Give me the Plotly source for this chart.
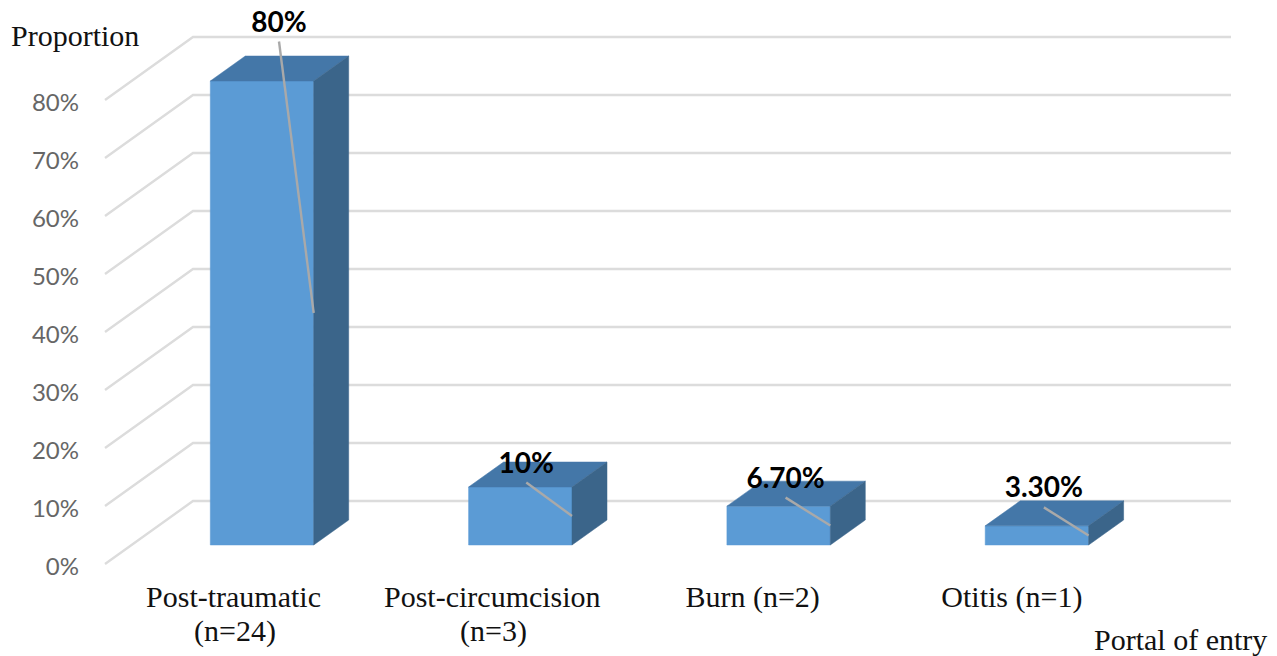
import plotly.graph_objects as go

# ---- data ----
category_names = ["Post-traumatic", "Post-circumcision", "Burn (n=2)", "Otitis (n=1)"]
category_second_lines = ["(n=24)", "(n=3)", "", ""]
proportions = [80, 10, 6.7, 3.3]
value_labels = ["80%", "10%", "6.70%", "3.30%"]
axis_ticks = [0, 10, 20, 30, 40, 50, 60, 70, 80]

# ---- page geometry (pixels) ----
W, H = 1277, 656
L, R, T, B = 80, 37, 8, 80
PX_PER_CAT = 258.3
PX_PER_PCT = 5.8
X0_PX, Y0_PX = 262.0, 545.0      # first bar centre / front floor


def dx(px):
    return px / PX_PER_CAT


def dy(px):
    return px / PX_PER_PCT


def xd(px):
    return (px - X0_PX) / PX_PER_CAT


def yd(px):
    return (Y0_PX - px) / PX_PER_PCT


def xp(px):
    return (px - L) / (W - L - R)


def yp(px):
    return (H - B - px) / (H - T - B)


BAR_HALF = dx(51.7)
DEPTH_X, DEPTH_Y = dx(35), dy(25)
GRID_BACK_Y = dy(44)
GRID_FRONT_Y = dy(-19)
GRID_FRONT_X, GRID_BACK_X, GRID_END_X = xd(105), xd(193), xd(1231)

FRONT, TOP, SIDE = "#5b9bd5", "#4477a8", "#3b658a"
GRID, LEADER = "#dcdcdc", "#a9a9a9"
INK = "#111111"
SERIF = "Liberation Serif"
SANS = "Lato"
SERIF_SIZE = 30

# label placement for each bar: centre offset and lift above bar top, in pixels
LABEL_DX = [17, 6, 7, 7]
LABEL_LIFT = [56.5, 21.5, 25.5, 35.5]
LEADER_GAP = 17
TICK_SHIFTS = [28.5, 28, 26, 25]

fig = go.Figure()

# gridlines on the back wall and side wall
for t in axis_ticks:
    fig.add_trace(go.Scatter(
        x=[GRID_FRONT_X, GRID_BACK_X, GRID_END_X],
        y=[t + GRID_FRONT_Y, t + GRID_BACK_Y, t + GRID_BACK_Y],
        mode="lines", line=dict(color=GRID, width=2.4), hoverinfo="skip"))

# bars (front, top, side faces)
for i, v in enumerate(proportions):
    l, r = i - BAR_HALF, i + BAR_HALF
    faces = [
        ([l, r, r, l, l], [0, 0, v, v, 0], FRONT),
        ([l, r, r + DEPTH_X, l + DEPTH_X, l], [v, v, v + DEPTH_Y, v + DEPTH_Y, v], TOP),
        ([r, r + DEPTH_X, r + DEPTH_X, r, r], [0, DEPTH_Y, v + DEPTH_Y, v, 0], SIDE),
    ]
    for fx, fy, c in faces:
        fig.add_trace(go.Scatter(x=fx, y=fy, mode="lines", fill="toself", fillcolor=c,
                                 line=dict(color=c, width=0.5), hoverinfo="skip"))

# leader lines and value labels
for i, v in enumerate(proportions):
    lx = i + dx(LABEL_DX[i])
    ly = v + dy(LABEL_LIFT[i])
    fig.add_trace(go.Scatter(
        x=[lx, i + BAR_HALF], y=[ly - dy(LEADER_GAP), v / 2],
        mode="lines", line=dict(color=LEADER, width=2.4), hoverinfo="skip"))
    fig.add_trace(go.Scatter(
        x=[lx], y=[ly], mode="text", text=[value_labels[i]], textposition="middle center",
        textfont=dict(family=SANS, size=28, color="#000000", weight="bold"),
        hoverinfo="skip", cliponaxis=False))

serif_font = dict(family=SERIF, size=SERIF_SIZE, color=INK)
annotations = [
    dict(text="Proportion", x=xp(9), y=yp(35), xref="paper", yref="paper", xanchor="left",
         yanchor="middle", showarrow=False, font=serif_font),
    dict(text="Portal of entry", x=xp(1269), y=yp(639), xref="paper", yref="paper", xanchor="right",
         yanchor="middle", showarrow=False, font=serif_font),
]
# second line of the category labels (tighter leading than Plotly's multi-line ticks)
for i, s in enumerate(category_second_lines):
    if s:
        annotations.append(dict(
            text=s, x=xp(X0_PX + i * PX_PER_CAT - TICK_SHIFTS[i] + 1), y=yp(631),
            xref="paper", yref="paper", xanchor="center", yanchor="middle",
            showarrow=False, font=serif_font))

fig.update_layout(
    width=W, height=H, margin=dict(l=L, r=R, t=T, b=B, pad=0),
    paper_bgcolor="white", plot_bgcolor="white", showlegend=False,
    annotations=annotations,
    xaxis=dict(range=[xd(L), xd(W - R)], showgrid=False, zeroline=False, showline=False,
               ticks="", tickmode="array",
               tickvals=[i - dx(TICK_SHIFTS[i]) for i in range(len(category_names))],
               ticktext=category_names, tickangle=0,
               tickfont=serif_font),
    yaxis=dict(range=[yd(H - B), yd(T)], showgrid=False, zeroline=False, showline=False,
               ticks="", tickmode="array", tickvals=[t - dy(22) for t in axis_ticks],
               ticktext=[f"{t}%" for t in axis_ticks],
               tickfont=dict(family=SANS, size=24, color="#666666")),
)

fig.write_html("out.html", config={"displayModeBar": False},
               post_script="document.body.style.margin='0';document.body.style.overflow='hidden';")
